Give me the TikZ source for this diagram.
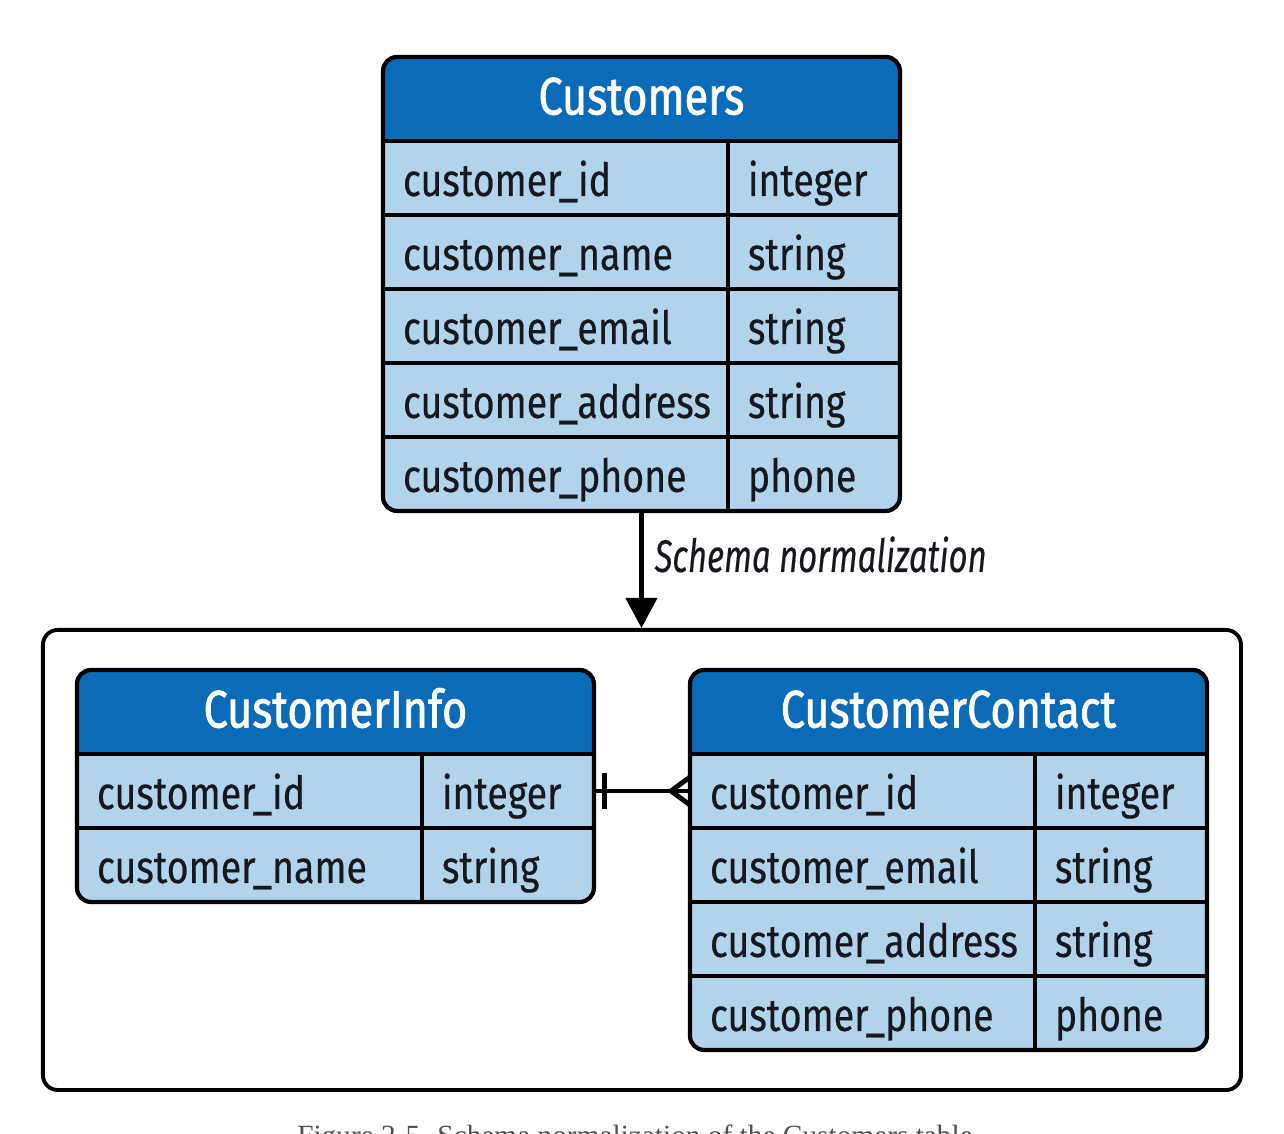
\documentclass[tikz,border=0pt]{standalone}
\usepackage{fontspec}
\setmainfont[FakeStretch=0.82,FakeBold=0.4]{Fira Sans}
\newfontfamily\headfont[FakeStretch=0.82,FakeBold=1.4]{Fira Sans}
\newfontfamily\labelfont[FakeStretch=0.72,FakeBold=0.3]{Fira Sans}
\newfontfamily\captionfont{Liberation Serif}
\usetikzlibrary{arrows.meta,positioning,fit,calc}
\definecolor{headblue}{HTML}{0A6CB8}
\definecolor{rowblue}{HTML}{B2D4EB}
\definecolor{inkdark}{HTML}{15181F}
\definecolor{captiongray}{HTML}{505050}

\tikzset{
  cell/.style={draw, fill=rowblue, line width=2.2pt, outer sep=0pt, inner xsep=0.4cm, inner ysep=0pt,
    minimum height=1.48cm, align=left, text height=0.78cm, text depth=0.06cm, text=inkdark,
    font=\fontsize{26}{26}\selectfont},
  namecell/.style={cell, text width=6.1cm},
  typecell/.style={cell, text width=2.64cm},
  headcell/.style={draw, fill=headblue, text=white, line width=2.2pt, outer sep=0pt, inner sep=0pt,
    minimum width=10.34cm, minimum height=1.68cm, text height=0.7cm, text depth=0.08cm,
    font=\headfont\fontsize{30}{30}\selectfont},
  tableframe/.style={draw, line width=2.4pt, rounded corners=0.28cm, inner sep=0pt},
  bigframe/.style={draw, line width=2.2pt, rounded corners=0.3cm, inner xsep=0.64cm, inner ysep=0.76cm},
  flow/.style={-{Triangle[length=0.6cm,width=0.62cm]}, line width=2.4pt},
  link/.style={line width=2.8pt},
}

\begin{document}
\begin{tikzpicture}[x=0.02cm, y=-0.02cm]
  \clip (0,0) rectangle (1284,1133);

  % Customers
  \begin{scope}
    \clip[rounded corners=0.28cm] (383,57) rectangle (900,511);
    \node[headcell, anchor=north west] (hdrCust) at (383,57) {Customers};
    \node[namecell, anchor=north west] (cust1n) at (hdrCust.south west) {customer\_id};
    \node[typecell, right=0pt of cust1n] (cust1t) {integer};
    \node[namecell, below=0pt of cust1n] (cust2n) {customer\_name};
    \node[typecell, right=0pt of cust2n] (cust2t) {string};
    \node[namecell, below=0pt of cust2n] (cust3n) {customer\_email};
    \node[typecell, right=0pt of cust3n] (cust3t) {string};
    \node[namecell, below=0pt of cust3n] (cust4n) {customer\_address};
    \node[typecell, right=0pt of cust4n] (cust4t) {string};
    \node[namecell, below=0pt of cust4n] (cust5n) {customer\_phone};
    \node[typecell, right=0pt of cust5n] (cust5t) {phone};
  \end{scope}
  \node[tableframe, fit=(hdrCust)(cust5t)] (custTbl) {};

  % CustomerInfo
  \begin{scope}
    \clip[rounded corners=0.28cm] (77,670) rectangle (594,902);
    \node[headcell, anchor=north west] (hdrInfo) at (77,670) {CustomerInfo};
    \node[namecell, anchor=north west] (info1n) at (hdrInfo.south west) {customer\_id};
    \node[typecell, right=0pt of info1n] (info1t) {integer};
    \node[namecell, below=0pt of info1n] (info2n) {customer\_name};
    \node[typecell, right=0pt of info2n] (info2t) {string};
  \end{scope}
  \node[tableframe, fit=(hdrInfo)(info2t)] (infoTbl) {};

  % CustomerContact
  \begin{scope}
    \clip[rounded corners=0.28cm] (690,670) rectangle (1207,1050);
    \node[headcell, anchor=north west] (hdrCont) at (690,670) {CustomerContact};
    \node[namecell, anchor=north west] (cont1n) at (hdrCont.south west) {customer\_id};
    \node[typecell, right=0pt of cont1n] (cont1t) {integer};
    \node[namecell, below=0pt of cont1n] (cont2n) {customer\_email};
    \node[typecell, right=0pt of cont2n] (cont2t) {string};
    \node[namecell, below=0pt of cont2n] (cont3n) {customer\_address};
    \node[typecell, right=0pt of cont3n] (cont3t) {string};
    \node[namecell, below=0pt of cont3n] (cont4n) {customer\_phone};
    \node[typecell, right=0pt of cont4n] (cont4t) {phone};
  \end{scope}
  \node[tableframe, fit=(hdrCont)(cont4t)] (contTbl) {};

  \node[bigframe, fit=(infoTbl)(contTbl)] (normFrame) {};

  \draw[flow] (custTbl.south) -- node[pos=0.36, right=3pt, text=inkdark, font=\labelfont\fontsize{26}{26}\selectfont\itshape] (normLabel) {Schema normalization}
    (custTbl.south |- normFrame.north);

  % one-to-many link
  \draw[link] (info1t.east) -- (cont1n.west);
  \draw[link] ($(info1t.east)+(11,-18)$) -- ($(info1t.east)+(11,18)$);
  \draw[link] ($(cont1n.west)+(0,-14)$) -- ($(cont1n.west)+(-19,0)$) -- ($(cont1n.west)+(0,14)$);

  \node[anchor=base, text=captiongray, font=\captionfont\fontsize{16.7}{16.7}\selectfont] (caption) at (635,1145)
    {Figure 2-5. Schema normalization of the Customers table};
\end{tikzpicture}
\end{document}
